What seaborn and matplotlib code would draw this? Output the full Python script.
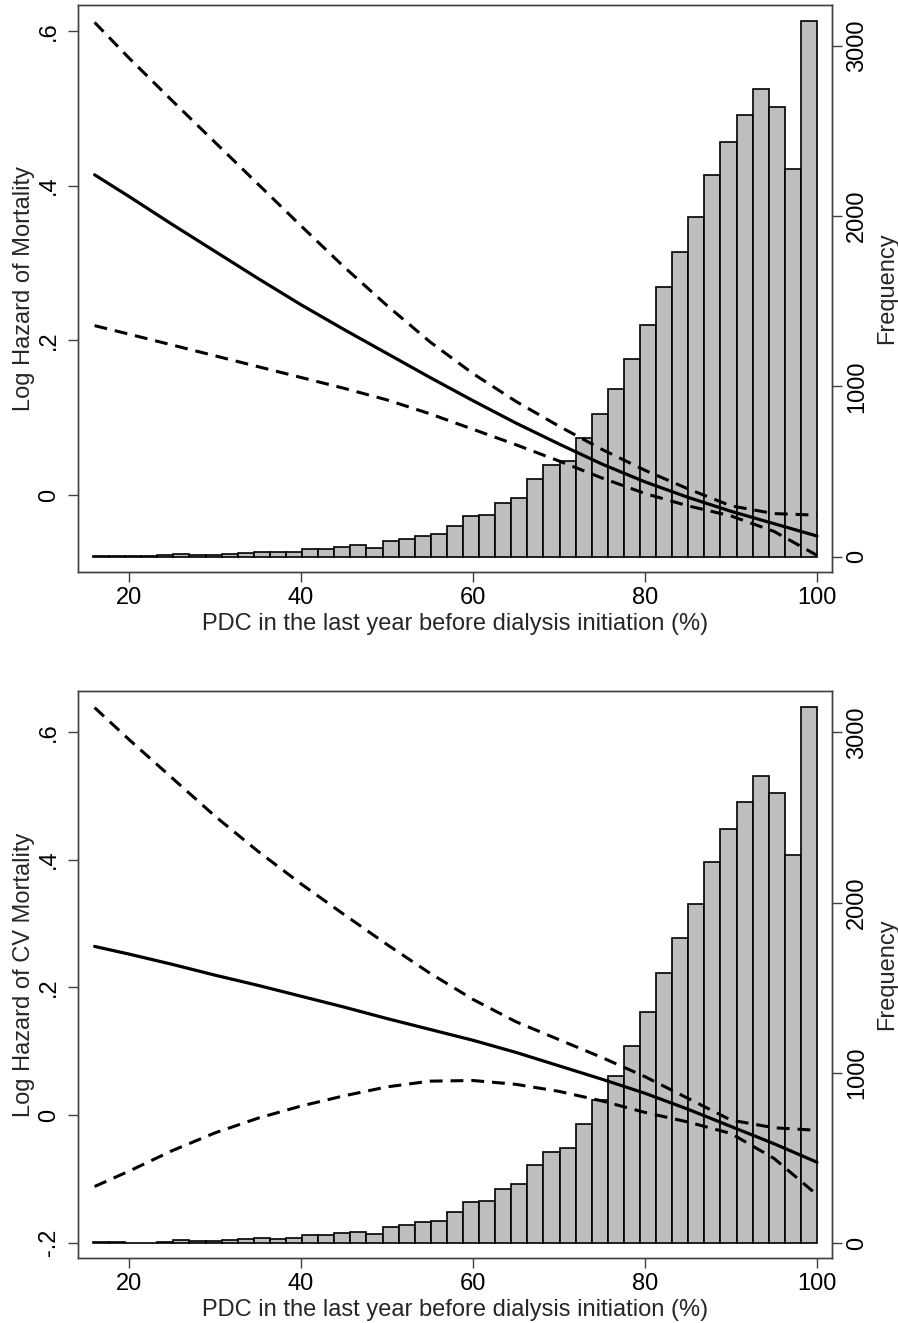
import numpy as np
import pandas as pd
import matplotlib
matplotlib.use("Agg")
import matplotlib.pyplot as plt
import seaborn as sns

# ---------------- data ----------------
# histogram of PDC (same cohort in both panels)
BIN_START, BIN_END, N_BINS = 15.8, 100.0, 45
freq = [5, 5, 2, 2, 8, 16, 12, 10, 16, 22, 29, 25, 27, 47, 45, 57, 67, 53, 94,
        106, 121, 131, 182, 241, 245, 315, 345, 456, 537, 560, 697, 840, 983,
        1160, 1359, 1584, 1791, 1993, 2241, 2435, 2592, 2744, 2642, 2278, 3147]

pdc = [16, 20, 25, 30, 35, 40, 45, 50, 55, 60, 65, 70, 75, 80, 85, 90, 95, 100]

# panel 1: all-cause mortality
mort_est = [0.414, 0.386, 0.350, 0.315, 0.280, 0.246, 0.214, 0.183, 0.152, 0.122,
            0.093, 0.066, 0.040, 0.017, -0.003, -0.021, -0.037, -0.053]
mort_hi = [0.611, 0.565, 0.510, 0.456, 0.402, 0.348, 0.295, 0.245, 0.198, 0.157,
           0.121, 0.089, 0.059, 0.032, 0.008, -0.014, -0.024, -0.026]
mort_lo = [0.219, 0.208, 0.194, 0.180, 0.166, 0.152, 0.138, 0.123, 0.105, 0.085,
           0.065, 0.044, 0.022, 0.002, -0.014, -0.027, -0.047, -0.078]

# panel 2: CV mortality
cv_est = [0.264, 0.252, 0.236, 0.219, 0.203, 0.186, 0.169, 0.151, 0.134, 0.117,
          0.098, 0.077, 0.056, 0.034, 0.009, -0.018, -0.045, -0.074]
cv_hi = [0.638, 0.588, 0.528, 0.468, 0.413, 0.362, 0.314, 0.267, 0.222, 0.181,
         0.146, 0.118, 0.090, 0.060, 0.026, -0.008, -0.020, -0.024]
cv_lo = [-0.112, -0.088, -0.056, -0.028, -0.005, 0.014, 0.030, 0.044, 0.053, 0.054,
         0.048, 0.037, 0.022, 0.004, -0.011, -0.029, -0.068, -0.125]

x_ticks = [20, 40, 60, 80, 100]
x_ticklabels = ["20", "40", "60", "80", "100"]
y1_ticks = [0, 0.2, 0.4, 0.6]
y1_ticklabels = ["0", ".2", ".4", ".6"]
y2_ticks = [-0.2, 0, 0.2, 0.4, 0.6]
y2_ticklabels = ["-.2", "0", ".2", ".4", ".6"]
f_ticks = [0, 1000, 2000, 3000]
f_ticklabels = ["0", "1000", "2000", "3000"]

xlabel = "PDC in the last year before dialysis initiation (%)"
ylabel_top = "Log Hazard of Mortality"
ylabel_bot = "Log Hazard of CV Mortality"
ylabel_right = "Frequency"

# ---------------- style ----------------
sns.set_style("ticks")
plt.rcParams["font.family"] = ["Liberation Sans", "DejaVu Sans"]
FS = 17
SPINE = "#404040"

bin_w = (BIN_END - BIN_START) / N_BINS
centers = [BIN_START + bin_w * (i + 0.5) for i in range(N_BINS)]
hist_df = pd.DataFrame({"pdc": centers, "n": freq})

fig = plt.figure(figsize=(8.98, 13.23), dpi=100)
ax_top = fig.add_axes([0.08686, 0.56765, 0.8396, 0.42857])
ax_bot = fig.add_axes([0.08686, 0.04936, 0.8396, 0.42834])

panels = [
    (ax_top, mort_est, mort_hi, mort_lo, (-0.0995, 0.6335), y1_ticks, y1_ticklabels,
     ylabel_top, (-90, 3240)),
    (ax_bot, cv_est, cv_hi, cv_lo, (-0.2235, 0.664), y2_ticks, y2_ticklabels,
     ylabel_bot, (-86, 3243)),
]

dash = (0, (4.2, 2.6))
for ax, est, hi, lo, ylim, yt, ytl, ylab, flim in panels:
    ax2 = ax.twinx()
    sns.histplot(data=hist_df, x="pdc", weights="n", bins=N_BINS,
                 binrange=(BIN_START, BIN_END), ax=ax2,
                 color="#BEBEBE", edgecolor="black", linewidth=1.2, alpha=1)
    ax2.set_ylim(*flim)
    ax2.set_yticks(f_ticks)
    ax2.set_yticklabels(f_ticklabels)
    ax2.set_ylabel(ylabel_right, fontsize=FS, labelpad=6)
    ax2.set_xlabel("")

    line_df = pd.DataFrame({"pdc": pdc, "est": est, "hi": hi, "lo": lo})
    sns.lineplot(data=line_df, x="pdc", y="hi", ax=ax, color="black", lw=2.2,
                 linestyle=dash)
    sns.lineplot(data=line_df, x="pdc", y="lo", ax=ax, color="black", lw=2.2,
                 linestyle=dash)
    sns.lineplot(data=line_df, x="pdc", y="est", ax=ax, color="black", lw=2.3)

    ax.set_zorder(ax2.get_zorder() + 1)
    ax.patch.set_visible(False)

    ax.set_xlim(14.07, 101.74)
    ax.set_ylim(*ylim)
    ax.set_xticks(x_ticks)
    ax.set_xticklabels(x_ticklabels)
    ax.set_yticks(yt)
    ax.set_yticklabels(ytl)
    ax.set_xlabel(xlabel, fontsize=FS, labelpad=3)
    ax.set_ylabel(ylab, fontsize=FS, labelpad=2)

    for a in (ax, ax2):
        for s in a.spines.values():
            s.set_visible(True)
            s.set_color(SPINE)
            s.set_linewidth(1.0)
        a.tick_params(axis="both", direction="out", length=7, width=1.0,
                      color=SPINE, labelsize=FS, labelcolor="black")
    ax.tick_params(axis="y", pad=6)
    ax.tick_params(axis="x", pad=4)
    ax2.tick_params(axis="y", pad=3)
    for lab in ax.get_yticklabels():
        lab.set_rotation(90)
        lab.set_va("center")
    for lab in ax2.get_yticklabels():
        lab.set_rotation(90)
        lab.set_va("center")

fig.savefig("out.png", dpi=100, facecolor="white")
